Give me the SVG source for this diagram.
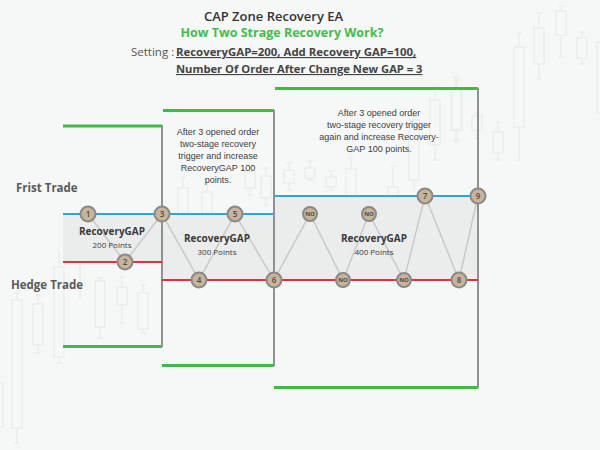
<svg xmlns="http://www.w3.org/2000/svg" width="600" height="450" viewBox="0 0 600 450">
<style>
.c{fill:none;stroke:#ebeded;stroke-width:1.5}
.g{stroke:#42b84a;stroke-width:3;fill:none}
.v{stroke:#8f9193;stroke-width:2;fill:none}
.b{stroke:#2fa4df;stroke-width:2}
.r{stroke:#ee2b3a;stroke-width:2}
.z{fill:#e9eaea;fill-opacity:0.85}
.k{stroke:#cbcbcb;stroke-width:1.6;fill:none}
.n circle{fill:#c8b499;stroke:#898989;stroke-width:2}
.n text{font-family:"Open Sans",sans-serif;font-size:8px;font-weight:600;fill:#4a4a4a;text-anchor:middle}
.no text{font-size:6px;font-weight:bold}
.a{font-family:"Liberation Sans",Arial,sans-serif;font-size:9px;fill:#3d3d3d;text-anchor:middle}
.gap{font-family:"Open Sans",sans-serif;font-size:10px;font-weight:bold;fill:#3a3a3a;text-anchor:middle}
.pt{font-family:"Open Sans",sans-serif;font-size:8px;fill:#3a3a3a;text-anchor:middle}
.lbl{font-family:"Open Sans",sans-serif;font-size:11.5px;font-weight:bold;fill:#5a5a5a}
</style>
<rect width="600" height="450" fill="#f6f7f7"/>
<g id="background-candles">
<path class="c" d="M453 77h6M456 77V88M456 130V142M453 142h6"/><rect class="c" x="451" y="88" width="10" height="42"/>
<path class="c" d="M474 113h6M477 113V116M477 130V138M474 138h6"/><rect class="c" x="472" y="116" width="10" height="14"/>
<path class="c" d="M495 122h6M498 122V132M498 153V160M495 160h6"/><rect class="c" x="493" y="132" width="10" height="21"/>
<path class="c" d="M516 33h6M519 33V47M519 127V160M516 160h6"/><rect class="c" x="514" y="47" width="10" height="80"/>
<path class="c" d="M536 13h6M539 13V28M539 64V79M536 79h6"/><rect class="c" x="534" y="28" width="10" height="36"/>
<path class="c" d="M558 6h6M561 6V11M561 35V57M558 57h6"/><rect class="c" x="556" y="11" width="10" height="24"/>
<path class="c" d="M579 32h6M582 32V38M582 58V64M579 64h6"/><rect class="c" x="577" y="38" width="10" height="20"/>
<rect class="c" x="597" y="42" width="10" height="71"/>
<path class="c" d="M14 293h6M17 293V300M17 428V443M14 443h6"/><rect class="c" x="12" y="300" width="10" height="128"/>
<path class="c" d="M35 295h6M38 295V304M38 345V353M35 353h6"/><rect class="c" x="33" y="304" width="10" height="41"/>
<path class="c" d="M59 267V250M59 357V363M56 363h6"/><rect class="c" x="54" y="267" width="10" height="90"/>
<rect class="c" x="-5" y="383" width="8" height="44"/>
<path class="c" d="M97 278h6M100 278V281M100 327V338M97 338h6"/><rect class="c" x="95" y="281" width="10" height="46"/>
<path class="c" d="M119 277h6M122 277V287M122 305V323M119 323h6"/><rect class="c" x="117" y="287" width="10" height="18"/>
<path class="c" d="M140 285h6M143 285V293M143 329V333M140 333h6"/><rect class="c" x="138" y="293" width="10" height="36"/>
<path class="c" d="M80 250V298M77 298h6"/>
<path class="c" d="M286 163h6M289 163V170M289 183V190M286 190h6"/><rect class="c" x="284" y="170" width="10" height="13"/>
<path class="c" d="M307 161h6M310 161V168M310 178V180M307 180h6"/><rect class="c" x="305" y="168" width="10" height="10"/>
<path class="c" d="M328 171h6M331 171V177M331 187V190M328 190h6"/><rect class="c" x="326" y="177" width="10" height="10"/>
<path class="c" d="M348 158h6M351 158V169M351 240V254M348 254h6"/><rect class="c" x="346" y="169" width="10" height="71"/>
<path class="c" d="M390 166h6M393 166V187M393 228V230M390 230h6"/><rect class="c" x="388" y="187" width="10" height="41"/>
<path class="c" d="M414 108V120M414 180V190"/><rect class="c" x="409" y="120" width="10" height="60"/>
<path class="c" d="M432 87h6M435 87V100M435 145V160M432 160h6"/><rect class="c" x="430" y="100" width="10" height="45"/>
<path class="c" d="M454 80h6M457 80V90M457 130V140M454 140h6"/><rect class="c" x="452" y="90" width="10" height="40"/>
<path class="c" d="M180 177h6M183 177V188M183 228V240M180 240h6"/><rect class="c" x="178" y="188" width="10" height="40"/>
<path class="c" d="M204 180h6M207 180V192M207 245V260M204 260h6"/><rect class="c" x="202" y="192" width="10" height="53"/>
<path class="c" d="M247 165h6M250 165V172M250 188V195M247 195h6"/><rect class="c" x="245" y="172" width="10" height="16"/>
<path class="c" d="M263 168h6M266 168V176M266 198V205M263 205h6"/><rect class="c" x="261" y="176" width="10" height="22"/>
</g>
<g id="zones">
<rect class="z" x="63" y="214" width="99" height="48"/>
<rect class="z" x="162" y="214" width="112" height="66"/>
<rect class="z" x="274" y="196" width="204" height="84"/>
<path class="g" d="M63 126H162M63 346.5H162M163 110.5H274M162 365.5H274M275 88.5H478M274 387.5H478"/>
<path class="v" d="M162 125V347M274 110V366M478 88V388"/>
<path class="b" d="M63 214H274M274 196H478"/>
<path class="r" d="M63 262H162M162 280H478"/>
</g>
<g id="connectors">
<path class="k" d="M88 214L125 262L162 214L199 280L235 214L274 280L310 214L343 280L369 214L404 280L425 196L459 280L478 196"/>
</g>
<g id="node-1" class="n"><circle cx="88" cy="214" r="7.5"/><text x="88" y="217">1</text></g>
<g id="node-2" class="n"><circle cx="125" cy="262" r="7.5"/><text x="125" y="265">2</text></g>
<g id="node-3" class="n"><circle cx="162" cy="214" r="7.5"/><text x="162" y="217">3</text></g>
<g id="node-4" class="n"><circle cx="199" cy="280" r="7.5"/><text x="199" y="283">4</text></g>
<g id="node-5" class="n"><circle cx="235" cy="214" r="7.5"/><text x="235" y="217">5</text></g>
<g id="node-6" class="n"><circle cx="274" cy="280" r="7.5"/><text x="274" y="283">6</text></g>
<g id="node-no1" class="n no"><circle cx="310" cy="214" r="7"/><text x="310" y="216.2">NO</text></g>
<g id="node-no2" class="n no"><circle cx="343" cy="280" r="7"/><text x="343" y="282.2">NO</text></g>
<g id="node-no3" class="n no"><circle cx="369" cy="214" r="7"/><text x="369" y="216.2">NO</text></g>
<g id="node-no4" class="n no"><circle cx="404" cy="280" r="7"/><text x="404" y="282.2">NO</text></g>
<g id="node-7" class="n"><circle cx="425" cy="196" r="7.5"/><text x="425" y="199">7</text></g>
<g id="node-8" class="n"><circle cx="459" cy="280" r="7.5"/><text x="459" y="283">8</text></g>
<g id="node-9" class="n"><circle cx="478" cy="196" r="7.5"/><text x="478" y="199">9</text></g>
<g id="labels">
<text x="273.5" y="21" font-family="'Open Sans',sans-serif" font-size="13" font-weight="600" fill="#333" text-anchor="middle">CAP Zone Recovery EA</text>
<text x="282" y="37" font-family="'Open Sans',sans-serif" font-size="12.5" font-weight="bold" fill="#3fbf45" text-anchor="middle">How Two Strage Recovery Work?</text>
<text x="131" y="56" font-family="'Open Sans',sans-serif" font-size="11.5" fill="#555">Setting :</text>
<text x="176" y="56" font-family="'Open Sans',sans-serif" font-size="11.4" font-weight="bold" fill="#444" text-decoration="underline">RecoveryGAP=200, Add Recovery GAP=100,</text>
<text x="176" y="73" font-family="'Open Sans',sans-serif" font-size="11.2" font-weight="bold" fill="#444" text-decoration="underline">Number Of Order After Change New GAP = 3</text>
<text class="lbl" x="16" y="192">Frist Trade</text>
<text class="lbl" x="11" y="289">Hedge Trade</text>
<text class="gap" x="112" y="235">RecoveryGAP</text>
<text class="pt" x="112" y="247.5">200 Points</text>
<text class="gap" x="217" y="242">RecoveryGAP</text>
<text class="pt" x="217" y="254.5">300 Points</text>
<text class="gap" x="374" y="242">RecoveryGAP</text>
<text class="pt" x="374" y="254.5">400 Points</text>
<text class="a" x="218" y="135">After 3 opened order</text>
<text class="a" x="218" y="147">two-stage recovery</text>
<text class="a" x="218" y="159">trigger and increase</text>
<text class="a" x="218" y="171">RecoveryGAP 100</text>
<text class="a" x="218" y="183">points.</text>
<text class="a" x="379" y="116">After 3 opened order</text>
<text class="a" x="379" y="128">two-stage recovery trigger</text>
<text class="a" x="379" y="140">again and increase Recovery-</text>
<text class="a" x="379" y="152">GAP 100 points.</text>
</g>
</svg>
